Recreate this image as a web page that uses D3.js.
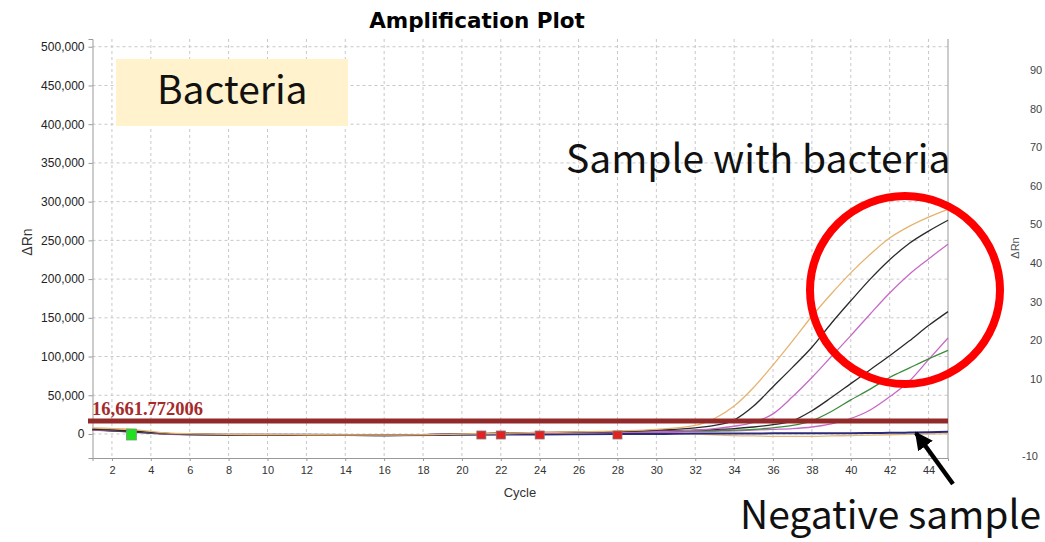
<!DOCTYPE html>
<html>
<head>
<meta charset="utf-8">
<script src="https://cdn.jsdelivr.net/npm/d3@7"></script>
<style>
  body { margin: 0; background: #fff; }
  svg { display: block; }
</style>
</head>
<body>
<script>
// data
var cycles = [1, 3, 5, 8, 12, 16, 20, 24, 28, 30, 32, 33, 34, 35, 36, 37, 38, 39, 40, 41, 42, 43, 44, 45];

var tanFlat  = [7000, 5000, 0, -500, -1000, -1500, -500, 500, 1000, 1000, 0, -1000, -2000, -2500, -3000, -3000, -3000, -2500, -2000, -1500, -1000, -500, 0, 500];
var negative = [6000, 3000, 0, -1000, -1000, -1500, -1000, -500, 0, 0, 500, 500, 500, 700, 800, 900, 1000, 1000, 1000, 1200, 1500, 1800, 2200, 3000];
var magenta2 = [5000, 3500, 0, -1000, -1500, -1500, 0, 1000, 2000, 2000, 3000, 3500, 4000, 5000, 6000, 7000, 9000, 13000, 20000, 31000, 48000, 68000, 96000, 124000];
var green    = [5000, 3500, 0, -1000, -1500, -1500, 0, 1000, 2000, 3000, 4000, 4500, 5000, 6000, 8000, 11000, 17000, 29000, 44000, 58000, 73000, 85000, 97000, 108000];
var black2   = [5000, 3000, 0, -1000, -1500, -1500, 0, 1500, 3000, 4000, 5000, 6000, 7000, 9000, 12000, 17000, 30000, 47000, 65000, 83000, 101000, 120000, 140000, 158000];
var magenta1 = [5000, 4000, 0, -1000, -1500, -1500, 0, 1000, 2000, 3000, 5000, 7000, 10000, 15000, 26000, 48000, 73000, 100000, 127000, 155000, 182000, 206000, 226000, 245000];
var black1   = [6000, 4000, 500, -1000, -1500, -2000, 0, 2000, 3000, 5000, 8000, 11000, 18000, 36000, 61000, 86000, 112000, 143000, 172000, 200000, 225000, 246000, 262000, 276000];
var orange   = [8000, 6000, 1000, -500, -1000, -1500, 0, 2000, 4000, 6000, 11000, 20000, 36000, 60000, 89000, 120000, 152000, 181000, 208000, 232000, 253000, 268000, 280000, 290000];

var seriesNames  = ["tanFlat", "negative", "magenta2", "green", "black2", "magenta1", "black1", "orange"];
var seriesValues = [tanFlat, negative, magenta2, green, black2, magenta1, black1, orange];
var seriesColors = ["#e2b878", "#2b2b7a", "#c868c8", "#3d8b3d", "#2a2a2a", "#c66ac6", "#2a2a2a", "#e6b36e"];

var threshold = 16661.772006;
var startMarkers = [3];
var endMarkers = [21, 22, 24, 28];

var yTicks = [0, 50000, 100000, 150000, 200000, 250000, 300000, 350000, 400000, 450000, 500000];
var xTicks = [2, 4, 6, 8, 10, 12, 14, 16, 18, 20, 22, 24, 26, 28, 30, 32, 34, 36, 38, 40, 42, 44];
// only the left part of the neighbouring chart's tick labels is in frame
var rightTicks = [-10, 10, 20, 30, 40, 50, 60, 70, 80, 90];

var width = 1045, height = 542;

var svg = d3.select("body").append("svg")
    .attr("width", width)
    .attr("height", height);

var x = d3.scaleLinear().domain([1, 45]).range([92.5, 948]);
var y = d3.scaleLinear().domain([-31000, 510000]).range([458, 39]);

// title
svg.append("text")
    .attr("x", 477).attr("y", 28)
    .attr("text-anchor", "middle")
    .style("font-family", "DejaVu Sans, Verdana, sans-serif")
    .style("font-weight", "bold")
    .style("font-size", "21.5px")
    .text("Amplification Plot");

// grid
svg.append("g").selectAll("line")
    .data(xTicks).enter().append("line")
    .attr("x1", function(d) { return x(d); })
    .attr("x2", function(d) { return x(d); })
    .attr("y1", 39).attr("y2", 458)
    .style("stroke", "#c8c8c8")
    .style("stroke-dasharray", "3,3");

svg.append("g").selectAll("line")
    .data(yTicks).enter().append("line")
    .attr("x1", 92.5).attr("x2", 948)
    .attr("y1", function(d) { return y(d); })
    .attr("y2", function(d) { return y(d); })
    .style("stroke", "#c8c8c8")
    .style("stroke-dasharray", "3,3");

// left axis
var yaxis = d3.axisLeft(y).tickValues(yTicks).tickFormat(d3.format(",")).tickSize(4);
var gy = svg.append("g")
    .attr("transform", "translate(92.5,0)")
    .call(yaxis);
gy.select(".domain").attr("stroke", "#999");
gy.selectAll(".tick line").attr("stroke", "#999");
gy.selectAll("text")
    .style("font-family", "Arial, Liberation Sans, sans-serif")
    .style("font-size", "12px")
    .attr("fill", "#222")
    .attr("x", -8);

// bottom axis
var xaxis = d3.axisBottom(x).tickValues(xTicks).tickSize(3);
var gx = svg.append("g")
    .attr("transform", "translate(0,458)")
    .call(xaxis);
gx.select(".domain").attr("stroke", "#999");
gx.selectAll(".tick line").attr("stroke", "#999");
gx.selectAll("text")
    .style("font-family", "Arial, Liberation Sans, sans-serif")
    .style("font-size", "11px")
    .attr("fill", "#333")
    .attr("y", 8);

// right border
svg.append("line")
    .attr("x1", 948).attr("x2", 948)
    .attr("y1", 39).attr("y2", 458)
    .style("stroke", "#999");

// axis titles
svg.append("text")
    .attr("transform", "translate(32,242) rotate(-90)")
    .attr("text-anchor", "middle")
    .style("font-family", "Arial, Liberation Sans, sans-serif")
    .style("font-size", "14px")
    .attr("fill", "#333")
    .text("ΔRn");

svg.append("text")
    .attr("x", 520).attr("y", 497)
    .attr("text-anchor", "middle")
    .style("font-family", "Arial, Liberation Sans, sans-serif")
    .style("font-size", "13px")
    .attr("fill", "#333")
    .text("Cycle");

// neighbouring chart cut by the right edge
var yr = d3.scaleLinear().domain([-10, 90]).range([456, 70]);
svg.append("g").selectAll("text")
    .data(rightTicks).enter().append("text")
    .attr("x", function(d) { return d < 0 ? 1022 : 1030; })
    .attr("y", function(d) { return yr(d) + 4; })
    .style("font-family", "Arial, Liberation Sans, sans-serif")
    .style("font-size", "11px")
    .attr("fill", "#444")
    .text(function(d) { return d; });

svg.append("text")
    .attr("transform", "translate(1019,248) rotate(-90)")
    .attr("text-anchor", "middle")
    .style("font-family", "Arial, Liberation Sans, sans-serif")
    .style("font-size", "11px")
    .attr("fill", "#555")
    .text("ΔRn");

// amplification curves
var line = d3.line()
    .x(function(d, i) { return x(cycles[i]); })
    .y(function(d) { return y(d); })
    .curve(d3.curveMonotoneX);

svg.append("g").selectAll("path")
    .data(seriesValues).enter().append("path")
    .attr("class", function(d, i) { return "curve " + seriesNames[i]; })
    .attr("d", line)
    .style("fill", "none")
    .style("stroke", function(d, i) { return seriesColors[i]; })
    .style("stroke-width", function(d, i) { return seriesNames[i] === "negative" ? 2 : 1.3; });

// threshold
svg.append("line")
    .attr("x1", 88).attr("x2", 948)
    .attr("y1", y(threshold)).attr("y2", y(threshold))
    .style("stroke", "#932a2a")
    .style("stroke-width", 5);

svg.append("text")
    .attr("x", 92).attr("y", y(threshold) - 6)
    .style("font-family", "Liberation Serif, Times New Roman, serif")
    .style("font-weight", "bold")
    .style("font-size", "18.5px")
    .attr("fill", "#a52a2a")
    .text(d3.format(",.6f")(threshold));

// baseline markers
svg.append("g").selectAll("rect")
    .data(startMarkers).enter().append("rect")
    .attr("x", function(d) { return x(d) - 5; })
    .attr("y", y(0) - 5)
    .attr("width", 10).attr("height", 11)
    .style("fill", "#22e022")
    .style("stroke", "#7a9a7a")
    .style("stroke-width", 0.8);

svg.append("g").selectAll("rect")
    .data(endMarkers).enter().append("rect")
    .attr("x", function(d) { return x(d) - 4.5; })
    .attr("y", y(0) - 3)
    .attr("width", 9).attr("height", 8)
    .style("fill", "#e02222")
    .style("stroke", "#8a7070")
    .style("stroke-width", 0.8);

// annotations
svg.append("rect")
    .attr("x", 116).attr("y", 59)
    .attr("width", 232).attr("height", 67)
    .style("fill", "#fff2cc");

var annoFont = "Noto Sans CJK JP, Noto Sans, sans-serif";

svg.append("text")
    .attr("x", 157).attr("y", 104)
    .style("font-family", annoFont)
    .style("font-size", "39px")
    .attr("fill", "#111")
    .text("Bacteria");

svg.append("text")
    .attr("x", 566).attr("y", 173)
    .style("font-family", annoFont)
    .style("font-size", "39px")
    .attr("fill", "#111")
    .text("Sample with bacteria");

svg.append("text")
    .attr("x", 740).attr("y", 529)
    .style("font-family", annoFont)
    .style("font-size", "39px")
    .attr("fill", "#111")
    .text("Negative sample");

svg.append("ellipse")
    .attr("cx", 905).attr("cy", 290)
    .attr("rx", 95).attr("ry", 94)
    .style("fill", "none")
    .style("stroke", "#ff0000")
    .style("stroke-width", 8);

// arrow to the negative sample
svg.append("defs").append("marker")
    .attr("id", "head")
    .attr("viewBox", "0 0 10 10")
    .attr("refX", 9).attr("refY", 5)
    .attr("markerWidth", 4).attr("markerHeight", 4)
    .attr("markerUnits", "strokeWidth")
    .attr("orient", "auto")
    .append("path")
    .attr("d", "M0,0 L10,5 L0,10 Z")
    .style("fill", "#000");

svg.append("line")
    .attr("x1", 953).attr("y1", 484)
    .attr("x2", 916).attr("y2", 433)
    .style("stroke", "#000")
    .style("stroke-width", 4.5)
    .attr("marker-end", "url(#head)");
</script>
</body>
</html>
